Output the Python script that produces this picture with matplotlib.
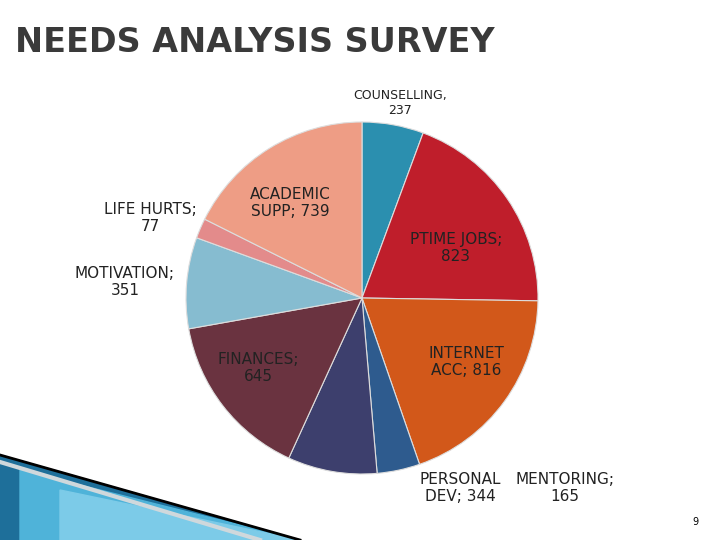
import numpy as np
import matplotlib.pyplot as plt
from matplotlib.patches import Polygon

# clockwise from 12 o'clock
labels = ["COUNSELLING", "PTIME JOBS", "INTERNET\nACC", "MENTORING", "PERSONAL\nDEV",
          "FINANCES", "MOTIVATION", "LIFE HURTS", "ACADEMIC\nSUPP"]
values = [237, 823, 816, 165, 344, 645, 351, 77, 739]
colors = ["#2B8FAF", "#BF1E2B", "#D2581A", "#2E5B8E", "#3D3F6D",
          "#6A3340", "#86BCD0", "#E38B8B", "#EE9D85"]

W, H = 720, 540
fig = plt.figure(figsize=(7.2, 5.4), dpi=100)
fig.patch.set_facecolor("white")

cx, cy, r = 362, 298, 176
ax = fig.add_axes([(cx - r) / W, (H - cy - r) / H, 2 * r / W, 2 * r / H])
ax.pie(values, colors=colors, startangle=90, counterclock=False,
       wedgeprops=dict(edgecolor="#dddddd", linewidth=0.8))
ax.set_xlim(-1, 1)
ax.set_ylim(-1, 1)
ax.set_aspect("equal")

# slide decoration bottom-left
deco = fig.add_axes([0, 0, 1, 1], zorder=-1)
deco.set_xlim(0, W)
deco.set_ylim(H, 0)
deco.axis("off")
deco.add_patch(Polygon([(0, 455), (300, 540), (0, 540)], color="#1E6F9A"))
deco.add_patch(Polygon([(20, 470), (300, 540), (20, 540)], color="#4FB3D9"))
deco.add_patch(Polygon([(60, 490), (300, 540), (60, 540)], color="#7CCBE8"))
deco.plot([0, 300], [455, 540], color="black", lw=2)
deco.plot([0, 260], [462, 540], color="#cfd8dc", lw=3)

fs = 11
fig.text(15 / W, 1 - 43 / H, "NEEDS ANALYSIS SURVEY", fontsize=24,
         color="#3a3a3a", fontweight="bold", va="center")
txt = [
    (400, 103, "COUNSELLING,\n237", 9),
    (150, 218, "LIFE HURTS;\n77", fs),
    (290, 203, "ACADEMIC\nSUPP; 739", fs),
    (456, 248, "PTIME JOBS;\n823", fs),
    (125, 282, "MOTIVATION;\n351", fs),
    (258, 368, "FINANCES;\n645", fs),
    (466, 362, "INTERNET\nACC; 816", fs),
    (460, 488, "PERSONAL\nDEV; 344", fs),
    (565, 488, "MENTORING;\n165", fs),
]
for x, y, t, s in txt:
    fig.text(x / W, 1 - y / H, t, ha="center", va="center", fontsize=s,
             color="#222222", family="DejaVu Sans", linespacing=1.1)
fig.text(695 / W, 1 - 522 / H, "9", fontsize=7, ha="center", va="center")

fig.savefig("out.png", dpi=100)
